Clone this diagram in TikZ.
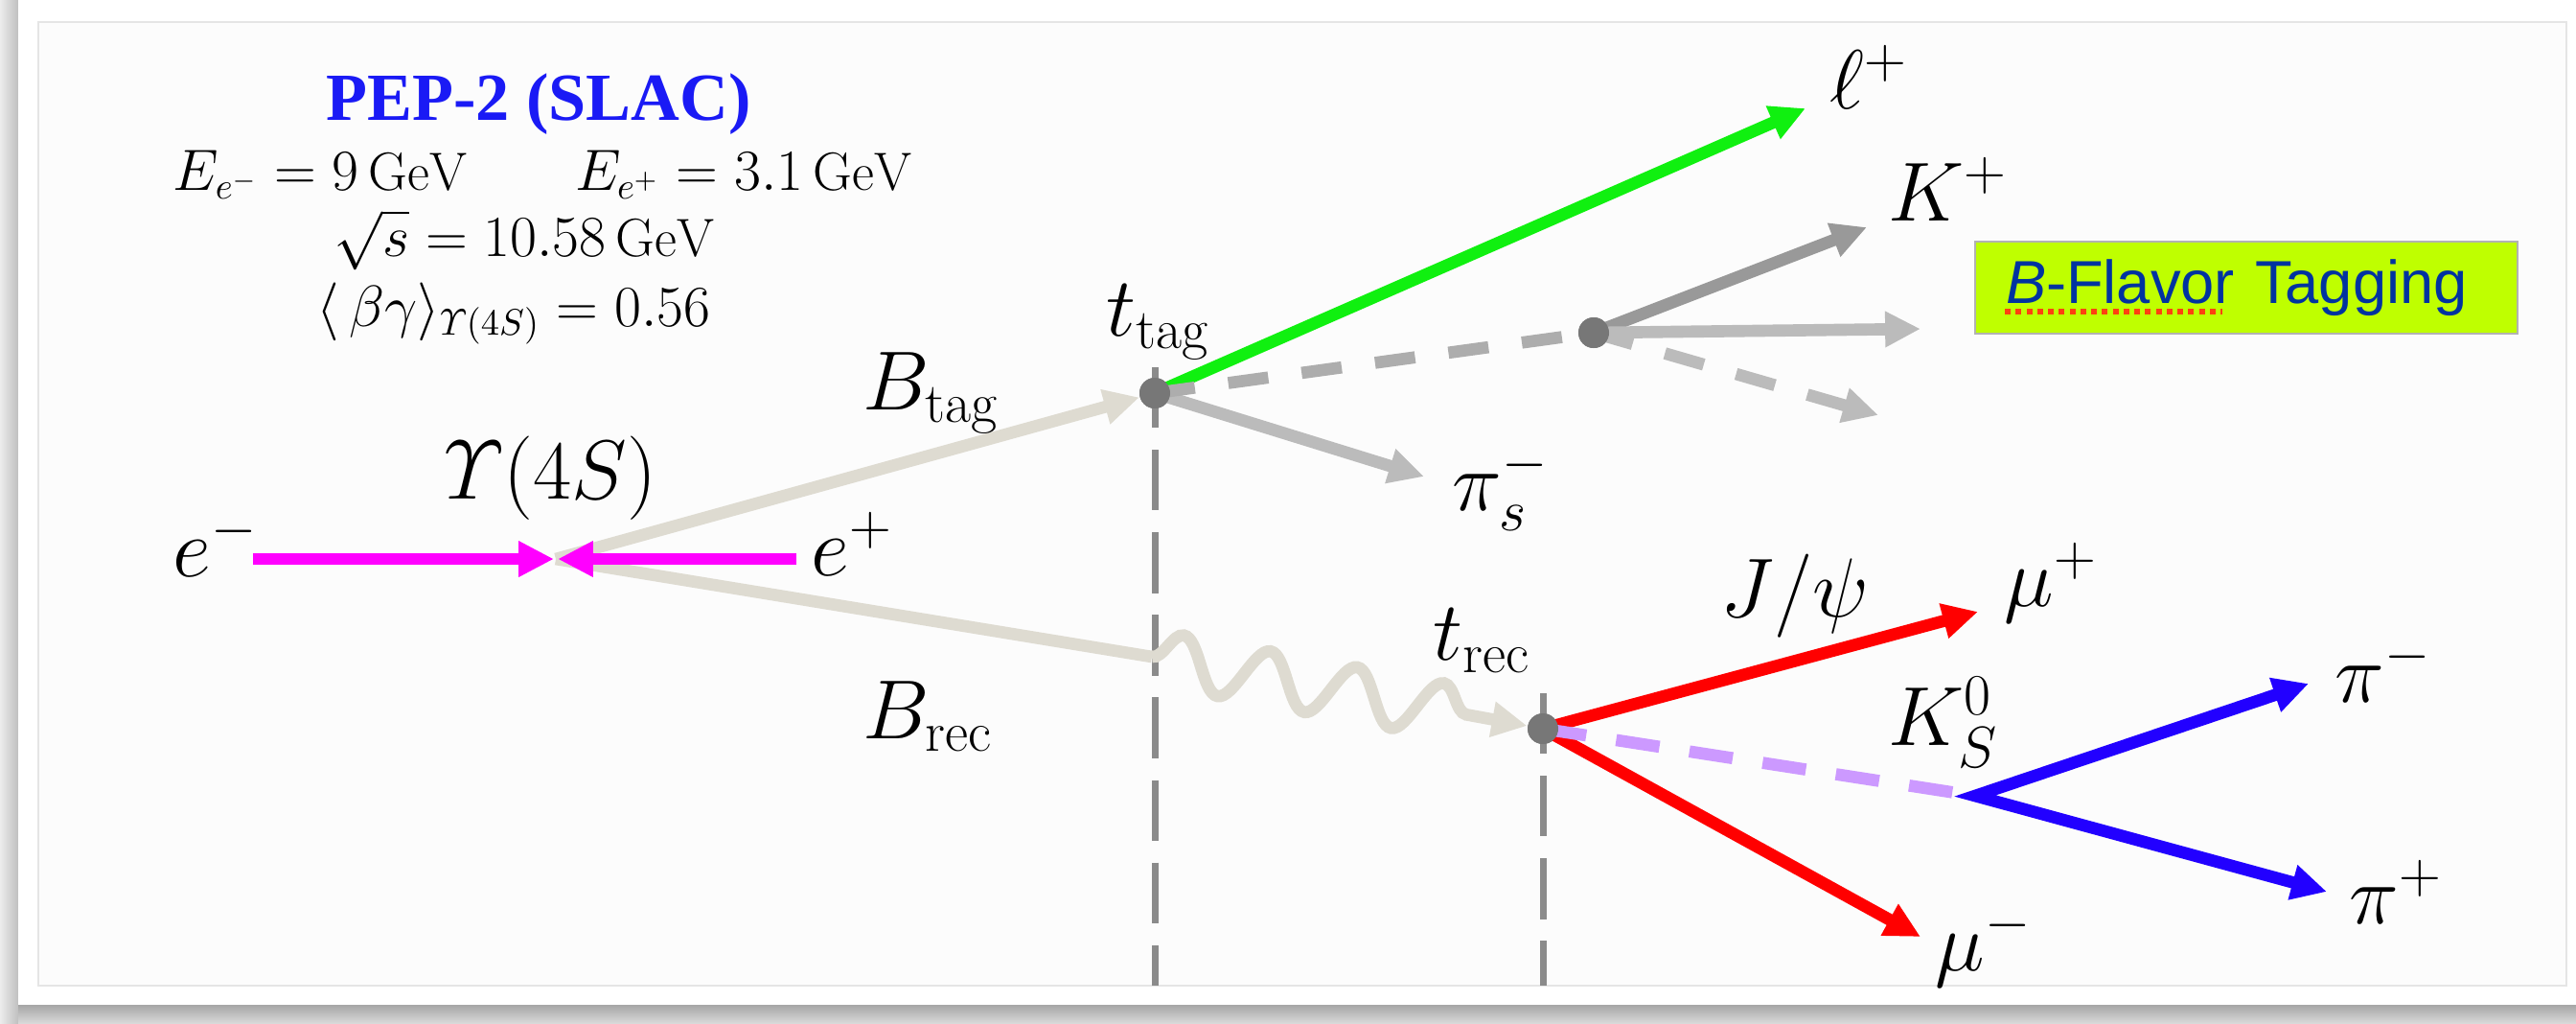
\documentclass[tikz,border=0pt]{standalone}
\usepackage{amsmath}
\usepackage{fontspec}
\newfontfamily\titlefont{Liberation Serif}
\newfontfamily\boxfont{Liberation Sans}
\usetikzlibrary{positioning, calc, arrows.meta, decorations.pathmorphing}
\definecolor{PanelBg}{HTML}{FCFCFC}
\definecolor{BeamMag}{HTML}{FF00FF}
\definecolor{BMeson}{HTML}{DEDBD1}
\definecolor{VtxGray}{HTML}{777777}
\definecolor{LepGreen}{HTML}{10F010}
\definecolor{KGray}{HTML}{999999}
\definecolor{LtGray}{HTML}{BBBBBB}
\definecolor{DashGray}{HTML}{ADADAD}
\definecolor{MuRed}{HTML}{FF0000}
\definecolor{PiBlue}{HTML}{2200FF}
\definecolor{KsLilac}{HTML}{CC99FF}
\definecolor{TitleBlue}{HTML}{1A1AF5}
\definecolor{TagFill}{HTML}{BFFF00}
\definecolor{TagText}{HTML}{0033A0}
\definecolor{SpellRed}{HTML}{FF4010}

\begin{document}
\begin{tikzpicture}[
    lbl/.style = {font=\fontsize{24}{28}\selectfont, inner sep=0pt, anchor=base west},
    hdr/.style = {font=\fontsize{16}{19}\selectfont, inner sep=0pt, anchor=base},
    vtx/.style = {circle, fill=VtxGray, minimum size=3.2mm, inner sep=0pt},
    trk/.style = {line width=3.6pt, -{Triangle[length=10.5pt,width=10pt]}},
    trkdash/.style = {trk, dash pattern=on 12pt off 10pt},
    seg/.style = {line width=3.6pt},
    tline/.style = {VtxGray!85, line width=2pt, dash pattern=on 18pt off 6.5pt}
]

%--- Frame ---
\useasboundingbox (0,0) rectangle (26.88,-10.67);
\shade[left color=gray!15, right color=gray!50] (0,0) rectangle (0.19,-10.67);
\shade[top color=gray!70, bottom color=gray!30] (0.19,-10.48) rectangle (26.88,-10.67);
\fill[white] (0.19,0) rectangle (26.88,-10.48);
\draw[fill=PanelBg, draw=gray!20, line width=0.4pt] (0.40,-0.23) rectangle (26.78,-10.28);
\coordinate (floor) at (0,-10.28);

%--- Header ---
\node[font=\fontsize{20}{23}\selectfont\titlefont\bfseries, text=TitleBlue, inner sep=0pt, anchor=base] (title) at (5.62,-1.25) {PEP-2 (SLAC)};
\node[hdr] (beams) at (5.66,-1.98) {$E_{e^-} = 9\,\mathrm{GeV} \qquad E_{e^+} = 3.1\,\mathrm{GeV}$};
\node[hdr] (sqrts) at (5.47,-2.67) {$\sqrt{s} = 10.58\,\mathrm{GeV}$};
\node[hdr] (boost) at (5.36,-3.40) {$\langle\,\beta\gamma\rangle_{\varUpsilon(4S)} = 0.56$};

%--- Vertices ---
\coordinate (ups) at (5.80,-5.83);
\coordinate (em)  at (2.64,-5.83);
\coordinate (ep)  at (8.31,-5.83);
\coordinate (kink) at (12.02,-6.85);
\node[vtx] (ttag) at (12.05,-4.10) {};
\node[vtx] (trec) at (16.10,-7.60) {};
\node[vtx] (kvtx) at (16.63,-3.47) {};
\coordinate (ksv) at (20.61,-8.30);

% track ends
\coordinate (lp)  at (18.84,-1.13);
\coordinate (pis) at (14.86,-4.97);
\coordinate (kp)  at (19.48,-2.37);
\coordinate (kx)  at (20.04,-3.43);
\coordinate (kd)  at (19.60,-4.33);
\coordinate (mup) at (20.64,-6.38);
\coordinate (mum) at (20.04,-9.77);
\coordinate (pim) at (24.09,-7.13);
\coordinate (pip) at (24.28,-9.30);

%--- Time lines ---
\draw[tline] ([yshift=2.7mm]ttag.center) -- (ttag |- floor);
\draw[tline] ([yshift=3.7mm]trec.center) -- (trec |- floor);

%--- B mesons ---
\draw[trk, BMeson] (ups) -- (ttag);
\draw[seg, BMeson] (ups) -- (kink);
\draw[trk, BMeson, decorate, decoration={snake, amplitude=2.8mm, segment length=9.2mm, post length=4.5mm}] (kink) -- (trec);

%--- Beams ---
\draw[trk, BeamMag, shorten >=0.2mm] (em) -- (ups);
\draw[trk, BeamMag, shorten >=0.2mm] (ep) -- (ups);

%--- Tag side ---
\draw[trk, LepGreen] (ttag.center) -- (lp);
\draw[trk, LtGray] (ttag.center) -- (pis);
\draw[seg, DashGray, dash pattern=on 12pt off 10pt] (ttag.center) -- (kvtx.center);
\draw[trk, KGray] (kvtx.center) -- (kp);
\draw[trk, LtGray] (kvtx.center) -- (kx);
\draw[trkdash, LtGray] (kvtx.center) -- (kd);

%--- Rec side ---
\draw[trk, MuRed] (trec.center) -- (mup);
\draw[trk, MuRed] (trec.center) -- (mum);
\draw[seg, KsLilac, dash pattern=on 13pt off 9pt] (trec.center) -- (ksv);
\draw[line width=3.6pt, PiBlue, miter limit=10, {Triangle[length=10.5pt,width=10pt]}-{Triangle[length=10.5pt,width=10pt]}] (pim) -- (ksv) -- (pip);

% vertices on top
\node[vtx] at (ttag) {};
\node[vtx] at (trec) {};
\node[vtx] at (kvtx) {};

%--- Labels ---
\node[lbl] (em_l)   at (1.80,-6.01)  {$e^-$};
\node[lbl] (ep_l)   at (8.46,-6.00)  {$e^+$};
\node[lbl] (ups_l)  at (4.63,-5.20)  {$\varUpsilon(4S)$};
\node[lbl] (btag_l) at (9.00,-4.27)  {$B_{\mathrm{tag}}$};
\node[lbl] (brec_l) at (9.00,-7.70)  {$B_{\mathrm{rec}}$};
\node[lbl] (ttag_l) at (11.54,-3.50) {$t_{\mathrm{tag}}$};
\node[lbl] (trec_l) at (14.95,-6.88) {$t_{\mathrm{rec}}$};
\node[lbl] (lp_l)   at (19.09,-1.13) {$\ell^+$};
\node[lbl] (kp_l)   at (19.70,-2.30) {$K^+$};
\node[lbl] (pis_l)  at (15.15,-5.32) {$\pi_s^-$};
\node[lbl] (jpsi_l) at (17.95,-6.43) {$J/\psi$};
\node[lbl] (mup_l)  at (20.91,-6.32) {$\mu^+$};
\node[lbl] (mum_l)  at (20.19,-10.12) {$\mu^-$};
\node[lbl] (ks_l)   at (19.70,-7.77) {$K_S^0$};
\node[lbl] (pim_l)  at (24.36,-7.32) {$\pi^-$};
\node[lbl] (pip_l)  at (24.51,-9.63) {$\pi^+$};

%--- Flavor tagging box ---
\node[draw=gray!60, line width=0.5pt, fill=TagFill, text=TagText, font=\fontsize{18}{21}\selectfont\boxfont,
      text width=5.02cm, inner xsep=3.2mm, minimum height=9.6mm, align=left] (tagbox) at (23.44,-3.00) {{\itshape B}-Flavor Tagging};
\draw[SpellRed, line width=1.7pt, dash pattern=on 1.7pt off 1.5pt] ([xshift=3.2mm,yshift=-2.5mm]tagbox.west) -- ++(2.27,0);

\end{tikzpicture}
\end{document}
